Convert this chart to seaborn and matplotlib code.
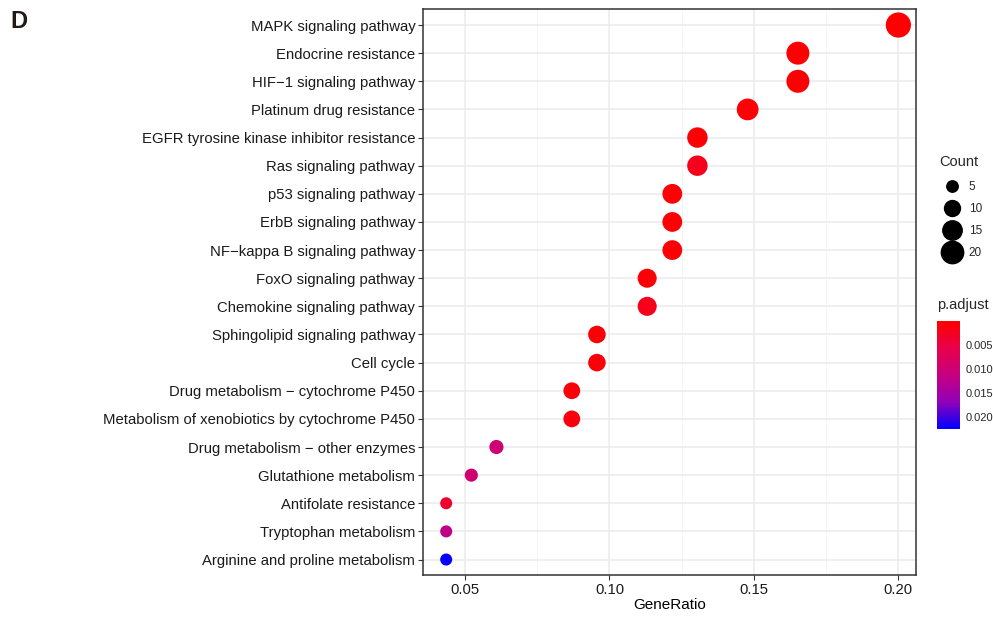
import numpy as np
import pandas as pd
import seaborn as sns
import matplotlib
matplotlib.use("Agg")
from matplotlib import pyplot as plt
from matplotlib.colors import LinearSegmentedColormap, Normalize
from matplotlib.lines import Line2D
from matplotlib.colorbar import ColorbarBase

pathways = [
    "MAPK signaling pathway",
    "Endocrine resistance",
    "HIF\u22121 signaling pathway",
    "Platinum drug resistance",
    "EGFR tyrosine kinase inhibitor resistance",
    "Ras signaling pathway",
    "p53 signaling pathway",
    "ErbB signaling pathway",
    "NF\u2212kappa B signaling pathway",
    "FoxO signaling pathway",
    "Chemokine signaling pathway",
    "Sphingolipid signaling pathway",
    "Cell cycle",
    "Drug metabolism \u2212 cytochrome P450",
    "Metabolism of xenobiotics by cytochrome P450",
    "Drug metabolism \u2212 other enzymes",
    "Glutathione metabolism",
    "Antifolate resistance",
    "Tryptophan metabolism",
    "Arginine and proline metabolism",
]
counts = [23, 19, 19, 17, 15, 15, 14, 14, 14, 13, 13, 11, 11, 10, 10, 7, 6, 5, 5, 5]
total_genes = 115
p_adjust = [0.0002, 0.0003, 0.0003, 0.0004, 0.0005, 0.0022, 0.0004, 0.0004, 0.0005,
            0.0006, 0.0020, 0.0007, 0.0008, 0.0008, 0.0009, 0.0100, 0.0098, 0.0035,
            0.0120, 0.0222]
count_breaks = [5, 10, 15, 20]
p_breaks = [0.005, 0.010, 0.015, 0.020]

df = pd.DataFrame({
    "Description": pathways,
    "Count": counts,
    "GeneRatio": [c / total_genes for c in counts],
    "p.adjust": p_adjust,
})

cmap = LinearSegmentedColormap.from_list(
    "rb", [(0, "#FF0000"), (0.25, "#E8004A"), (0.5, "#C60080"), (0.75, "#9200B8"), (1, "#0000FF")])
pmin, pmax = 0.0, 0.0225
norm = Normalize(pmin, pmax)
smin, smax = 75, 330

sns.set_style("white")
plt.rcParams["font.family"] = ["Liberation Sans", "DejaVu Sans"]

fig = plt.figure(figsize=(9.93, 6.17), dpi=100)
ax = fig.add_axes([423 / 993, 1 - 575 / 617, (916 - 423) / 993, (575 - 9) / 617])

ax.set_xlim(0.03545, 0.2061)
n = len(pathways)
ax.set_ylim(n - 1 + 0.55, -0.57)

# grid like theme_bw
for x in [0.075, 0.125, 0.175]:
    ax.axvline(x, color="#F2F2F2", lw=0.6, zorder=0)
for x in [0.05, 0.10, 0.15, 0.20]:
    ax.axvline(x, color="#EBEBEB", lw=1.1, zorder=0)
for i in range(n):
    ax.axhline(i, color="#EBEBEB", lw=1.1, zorder=0)

sns.scatterplot(
    data=df, x="GeneRatio", y="Description", size="Count", sizes=(smin, smax),
    size_norm=(5, 23), hue="p.adjust", palette=cmap, hue_norm=norm,
    linewidth=0, legend=False, ax=ax, zorder=3,
)

ax.set_xticks([0.05, 0.10, 0.15, 0.20])
ax.set_xticklabels(["0.05", "0.10", "0.15", "0.20"])
ax.set_xlabel("GeneRatio", fontsize=11, color="black", labelpad=1)
ax.set_ylabel("")
ax.tick_params(axis="both", which="major", length=3.5, width=0.8, color="#333333",
               labelsize=10.7, labelcolor="#1A1A1A", pad=2, left=True, bottom=True)
for s in ax.spines.values():
    s.set_color("#333333")
    s.set_linewidth(1.1)

# Count legend
handles = []
for c in count_breaks:
    area = smin + (c - 5) / (23 - 5) * (smax - smin)
    handles.append(Line2D([], [], marker="o", ls="", color="black",
                          markersize=np.sqrt(area) * 0.95, label=str(c)))
leg = fig.legend(handles=handles, title="Count", loc="upper left",
                 bbox_to_anchor=(935 / 993, 1 - 150 / 617), frameon=False,
                 fontsize=8.5, title_fontsize=10.5, labelspacing=0.85,
                 handlelength=2.0, handletextpad=0.45, borderaxespad=0,
                 alignment="left")
leg._legend_box.sep = 9

# p.adjust colorbar
fig.text(937 / 993, 1 - 312 / 617, "p.adjust", fontsize=10.5, va="bottom", ha="left")
cax = fig.add_axes([937 / 993, 1 - 429 / 617, 23 / 993, 108 / 617])
cb = ColorbarBase(cax, cmap=cmap, norm=norm, orientation="vertical")
cax.set_ylim(pmax, pmin)
cb.set_ticks(p_breaks)
cb.set_ticklabels(["%.3f" % p for p in p_breaks])
cb.outline.set_visible(False)
cax.tick_params(axis="y", direction="in", color="white", length=4, width=0.8,
                labelsize=8, pad=4, right=True, left=True)

fig.text(10 / 993, 1 - 21 / 617, "D", fontsize=17, fontweight="bold", color="#231815",
         va="center", ha="left")

fig.savefig("out.png", dpi=100)
